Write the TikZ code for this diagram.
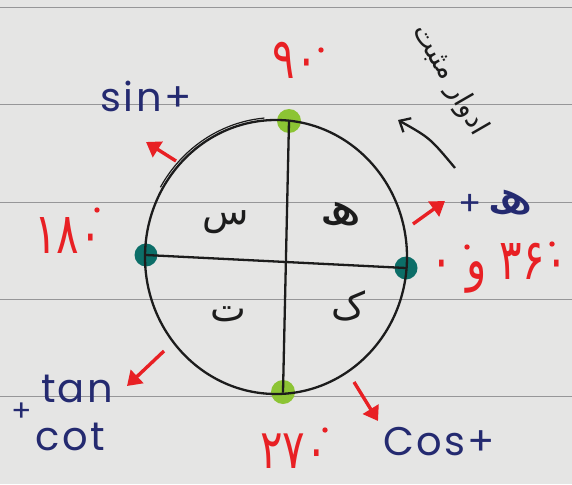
\documentclass[tikz,border=0pt]{standalone}
\usepackage{fontspec}
\setmainfont{Poppins}
\newfontfamily\arabicfont[Script=Arabic]{DejaVu Sans}
\TeXXeTstate=1
\usetikzlibrary{arrows.meta}
\definecolor{paper}{RGB}{229,229,228}
\definecolor{ruleline}{RGB}{150,150,152}
\definecolor{ink}{RGB}{28,28,28}
\definecolor{blueink}{RGB}{36,42,112}
\definecolor{redink}{RGB}{232,32,36}
\definecolor{greendot}{RGB}{140,196,52}
\definecolor{tealdot}{RGB}{12,110,104}
\tikzset{
  ruled/.style={draw=ruleline, line width=0.9pt},
  inkline/.style={draw=ink, line width=2.3pt, line cap=round},
  gdot/.style={circle, fill=greendot, minimum size=24pt, inner sep=0pt},
  tdot/.style={circle, fill=tealdot, minimum size=23pt, inner sep=0pt},
  redarrow/.style={draw=redink, line width=3.4pt, -{Triangle[length=14pt,width=18pt]}},
  bluelabel/.style={text=blueink, inner sep=0pt, font=\fontsize{40}{40}\selectfont\addfontfeature{LetterSpace=6}},
  redlabel/.style={text=redink, inner sep=0pt, font=\arabicfont\fontsize{42}{42}\selectfont},
  quadlabel/.style={text=ink, inner sep=0pt, font=\arabicfont\fontsize{38}{38}\selectfont},
  degdot/.style={fill=redink}
}
\begin{document}
\begin{tikzpicture}[x=1pt,y=-1pt]
\useasboundingbox (0,0) rectangle (572,484);
\fill[paper] (0,0) rectangle (572,484);
\foreach \yy in {7,104,202,299,396} \draw[ruled] (0,\yy) -- (572,\yy);

% marker dots
\node[gdot] (p90) at (289,121) {};
\node[gdot] (p270) at (283,392) {};
\node[tdot] (p180) at (146,255) {};
\node[tdot] (p0) at (406,268) {};

% circle and axes
\draw[inkline] (276,257) ellipse [x radius=131, y radius=137];
\draw[draw=ink, line width=1.2pt] plot[domain=95:150, samples=25] ({276+133.5*cos(\x)},{257-139.5*sin(\x)});
\draw[inkline] (p90.center) -- (p270.center);
\draw[inkline] (p180.center) -- (p0.center);

% quadrant letters
\node[quadlabel] (q1) at (341,214) {\scalebox{1.6}[1.2]{ھ}};
\node[quadlabel] (q2) at (226,222) {س};
\node[quadlabel] (q3) at (228,314) {ت};
\node[quadlabel] (q4) at (348,306) {ک};

% angle labels
\node[redlabel] (l90) at (295,60) {\scalebox{1}[1.35]{۹۰}};
\fill[degdot] (321,50) circle (2.7);
\node[redlabel] (l180) at (68,236) {\scalebox{1}[1.35]{۱۸۰}};
\fill[degdot] (97,210) circle (2.7);
\node[redlabel] (l0) at (499,268) {\scalebox{1}[1.35]{\beginR ۳۶۰ و ۰\endR}};
\fill[degdot] (467,247) circle (2.7);
\fill[degdot] (552,244) circle (2.7);
\node[redlabel] (l270) at (294,451) {\scalebox{1}[1.3]{۲۷۰}};
\fill[degdot] (325,430) circle (2.7);

% sign labels
\node[bluelabel] (ssin) at (146,96) {sin+};
\node[bluelabel] (stan) at (77,389) {tan};
\node[bluelabel] (scot) at (70,437) {cot};
\node[bluelabel, font=\fontsize{30}{30}\selectfont] (splus) at (22,412) {+};
\node[bluelabel, font=\fontsize{34}{34}\selectfont] (splus2) at (470,205) {+};
\node[bluelabel, font=\arabicfont\fontsize{40}{40}\selectfont] (sall) at (510,203) {\scalebox{1.7}[1.2]{ھ}};
\node[bluelabel] (scos) at (439,442) {Cos+};

% red arrows
\coordinate (a1s) at (176,161); \coordinate (a1e) at (146,142);
\coordinate (a2s) at (413,224); \coordinate (a2e) at (445,201);
\coordinate (a3s) at (164,351); \coordinate (a3e) at (127,386);
\coordinate (a4s) at (354,382); \coordinate (a4e) at (378,421);
\draw[redarrow] (a1s) -- (a1e);
\draw[redarrow] (a2s) -- (a2e);
\draw[redarrow] (a3s) -- (a3e);
\draw[redarrow] (a4s) -- (a4e);

% direction arrow and note
\coordinate (cs) at (455,168); \coordinate (ce) at (398,120);
\draw[draw=ink, line width=2.3pt, -{Straight Barb[length=9pt,width=16pt]}] (cs) .. controls (430,138) .. (ce);
\node[text=ink, inner sep=0pt, rotate=-60, font=\arabicfont\fontsize{28}{28}\selectfont] (note) at (450,80) {\beginR ادوار مثبت\endR};
\end{tikzpicture}
\end{document}
